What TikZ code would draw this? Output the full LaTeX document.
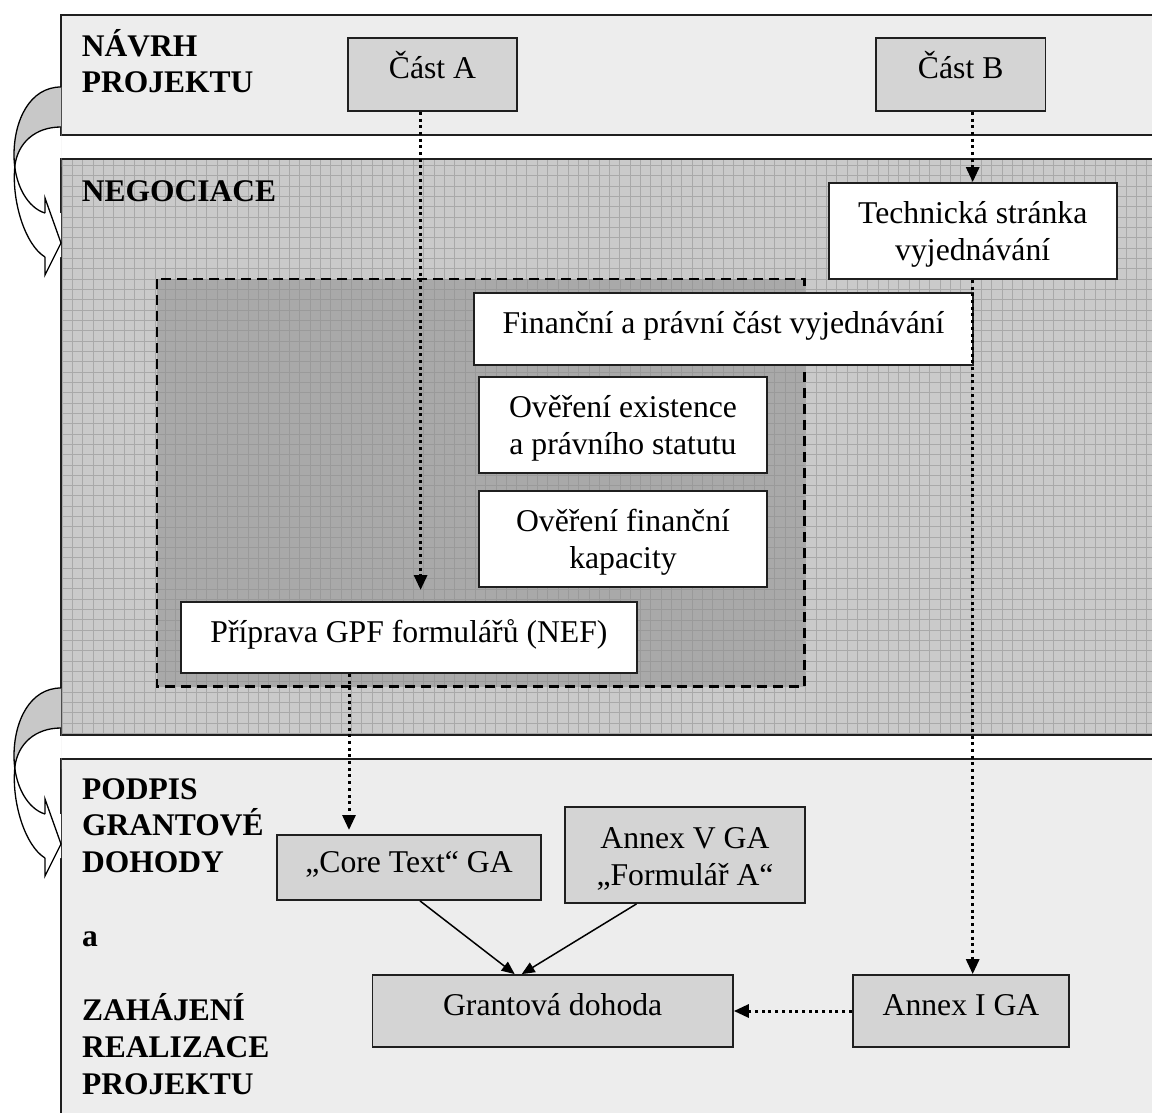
\documentclass[tikz,border=0pt]{standalone}
\usepackage{fontspec}
\setmainfont{Liberation Serif}
\usetikzlibrary{arrows.meta}
\definecolor{lightbg}{HTML}{EDEDED}
\definecolor{midbg}{HTML}{CACACA}
\definecolor{midgrid}{HTML}{A9A9A9}
\definecolor{darkbg}{HTML}{A9A9A9}
\definecolor{darkgrid}{HTML}{9A9A9A}
\definecolor{smallbg}{HTML}{D4D4D4}
\definecolor{curlbg}{HTML}{C8C8C8}
\newcommand{\dgnorm}{\fontsize{31.7}{37}\selectfont}
\newcommand{\dglabel}{\fontsize{31.5}{36.8}\selectfont\bfseries}
\newcommand{\dgstrut}{\rule{0pt}{29pt}}
\begin{document}
\begin{tikzpicture}[x=1pt,y=-1pt,
  bigborder/.style={draw=black!88, line width=2pt},
  graybox/.style={draw=black!88, line width=1.8pt, fill=smallbg, inner sep=0pt, font=\dgnorm, align=center},
  whitebox/.style={draw=black!88, line width=1.8pt, fill=white, inner sep=0pt, font=\dgnorm, align=center},
  oneline/.style={text height=22pt, text depth=13pt},
  lbl/.style={inner sep=0pt, align=left, font=\dglabel, anchor=base west},
  dotarrow/.style={line width=3pt, dash pattern=on 3pt off 3.7pt, -{Triangle[length=15pt,width=13pt]}},
  solidarrow/.style={line width=1.5pt, -{Triangle[length=13pt,width=11pt]}},
  curl/.style={draw=black, line width=1.3pt}
]
\useasboundingbox (0,0) rectangle (1152,1113);
\clip (0,0) rectangle (1152,1113);

% big panels
\fill[lightbg] (61,15) rectangle (1170,135);
\fill[midbg] (61,159) rectangle (1170,735);
\fill[lightbg] (61,759) rectangle (1170,1130);
\begin{scope}
  \clip (61,159) rectangle (1170,735);
  \draw[midgrid, line width=0.7pt, step=10.33pt] (50,150) grid (1175,745);
\end{scope}
\draw[bigborder] (1170,15) -- (61,15) -- (61,135) -- (1170,135);
\draw[bigborder] (1170,159) -- (61,159) -- (61,735) -- (1170,735);
\draw[bigborder] (1170,759) -- (61,759) -- (61,1130);

% dashed inner region
\fill[darkbg] (157,279) rectangle (804.5,686.7);
\begin{scope}
  \clip (157,279) rectangle (804.5,686.7);
  \draw[darkgrid, line width=0.6pt, step=10.33pt] (150,270) grid (810,690);
\end{scope}
\draw[black, line width=2.5pt, dash pattern=on 10pt off 6pt] (157,279) rectangle (804.5,686.7);

% labels (base anchor = baseline of the last line)
\node[lbl] (lNavrh) at (81.7,93) {NÁVRH\\PROJEKTU};
\node[lbl] (lNeg) at (81.7,201.5) {NEGOCIACE};
\node[lbl] (lPodpis) at (82,872.7) {PODPIS\\GRANTOVÉ\\DOHODY};
\node[lbl] (lA) at (82,946) {a};
\node[lbl] (lZah) at (82,1094) {ZAHÁJENÍ\\REALIZACE\\PROJEKTU};

% boxes
\node[graybox, oneline, minimum width=169pt, minimum height=73pt] (cA) at (432.5,74.5) {Část A};
\node[graybox, oneline, minimum width=169.5pt, minimum height=73pt] (cB) at (960.7,74.5) {Část B};
\node[whitebox, minimum width=288pt, minimum height=96pt] (tech) at (972.7,231) {\dgstrut Technická stránka\\vyjednávání};
\node[whitebox, oneline, minimum width=499pt, minimum height=72pt] (fin) at (723.5,329) {Finanční a právní část vyjednávání};
\node[whitebox, minimum width=288pt, minimum height=96pt] (ovE) at (623,425) {\dgstrut Ověření existence\\a právního statutu};
\node[whitebox, minimum width=288pt, minimum height=96pt] (ovF) at (623,539) {\dgstrut Ověření finanční\\kapacity};
\node[whitebox, oneline, minimum width=456pt, minimum height=71pt] (prip) at (409,637.5) {Příprava GPF formulářů (NEF)};
\node[graybox, oneline, minimum width=264pt, minimum height=65pt] (core) at (409,867.5) {„Core Text“ GA};
\node[graybox, minimum width=240pt, minimum height=96pt] (annV) at (685,855) {\dgstrut Annex V GA\\„Formulář A“};
\node[graybox, oneline, minimum width=360.5pt, minimum height=72pt] (gra) at (552.7,1011) {Grantová dohoda};
\node[graybox, oneline, minimum width=216.6pt, minimum height=72pt] (annI) at (961,1011) {Annex I GA};

% connectors
\coordinate (aEnd) at (420.6,590);
\coordinate (pEnd) at (349,830);
\draw[dotarrow] (cA.south -| aEnd) -- (aEnd);
\draw[dotarrow] (cB.south -| tech.north) -- (tech.north);
\draw[dotarrow] (tech.south) -- (tech.south |- annI.north);
\draw[dotarrow] (prip.south -| pEnd) -- (pEnd);
\draw[dotarrow] (annI.west) -- (gra.east);
\draw[solidarrow] ([xshift=11pt]core.south) -- ([xshift=-38pt]gra.north);
\draw[solidarrow] ([xshift=-48.5pt]annV.south) -- ([xshift=-31pt]gra.north);

% curved block arrows
\newcommand{\dgcurl}{%
  \fill[white, even odd rule]
    (61,87) .. controls (30,87) and (14,120) .. (14,155) .. controls (14,185) and (28,208) .. (45,213) -- (61,213) -- cycle
    (61,127) .. controls (35,127) and (18,143) .. (15,165) .. controls (11,200) and (25,245) .. (45,257) -- (61,257) -- cycle;
  \begin{scope}
    \clip (0,80) rectangle (61,167);
    \fill[curlbg, even odd rule]
      (61,87) .. controls (30,87) and (14,120) .. (14,155) .. controls (14,185) and (28,208) .. (45,213) -- (61,213) -- cycle
      (61,127) .. controls (35,127) and (18,143) .. (15,165) .. controls (11,200) and (25,245) .. (45,257) -- (61,257) -- cycle;
  \end{scope}
  \fill[white] (45,198) -- (61,243) -- (45,275) -- cycle;
  \draw[curl] (61,87) .. controls (30,87) and (14,120) .. (14,155) .. controls (14,185) and (28,208) .. (45,213);
  \draw[curl] (61,127) .. controls (35,127) and (18,143) .. (15,165) .. controls (11,200) and (25,245) .. (45,257);
  \draw[curl, line join=miter] (45,213) -- (45,198) -- (61,243) -- (45,275) -- (45,257);
}
\dgcurl
\begin{scope}[shift={(0,601)}]
  \dgcurl
\end{scope}
\end{tikzpicture}
\end{document}
